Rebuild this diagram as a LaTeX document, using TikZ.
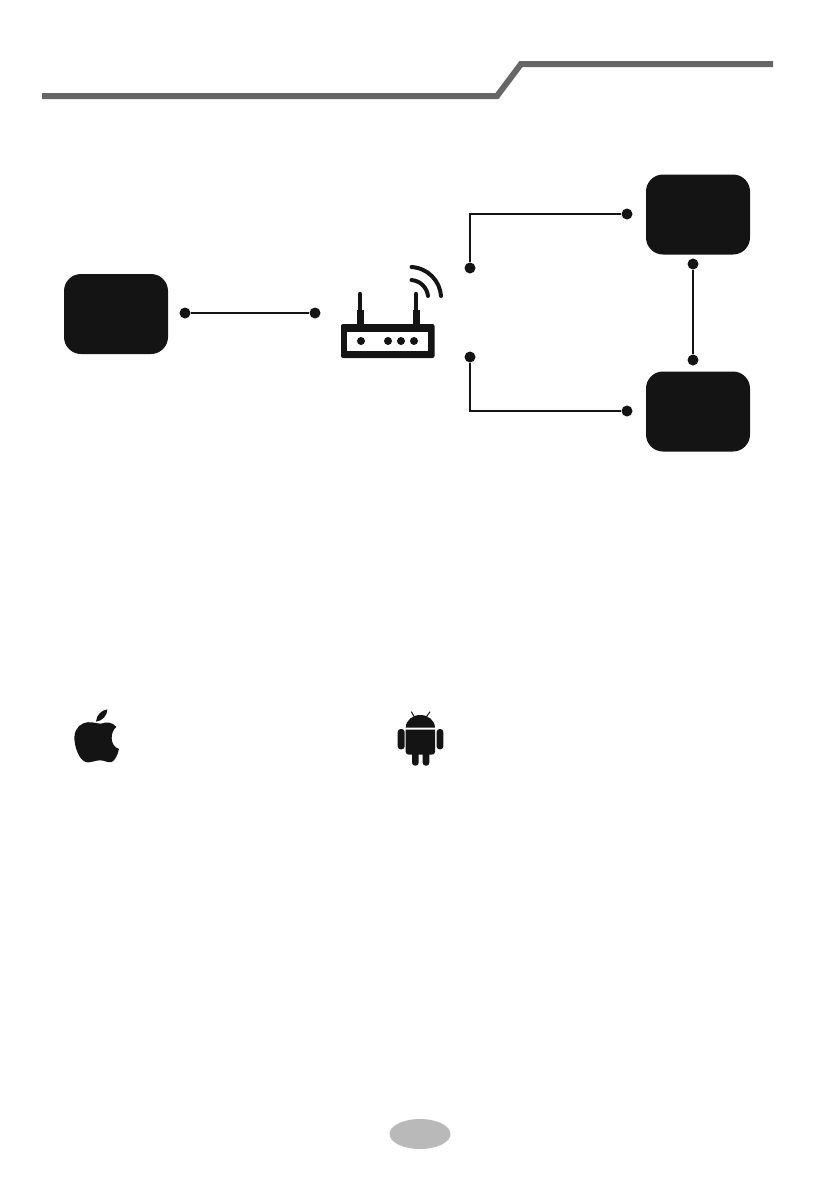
\documentclass[tikz,border=0pt]{standalone}
\usepackage{tikz}
\usetikzlibrary{
  positioning,
  shapes.geometric
}
\definecolor{inkblack}{HTML}{141414}
\definecolor{rulegray}{HTML}{666666}
\definecolor{pagegray}{HTML}{B9B9B9}

\begin{document}
\begin{tikzpicture}[
  x=1pt, y=-1pt,
  device/.style={draw=none, rounded corners=17pt, minimum width=104pt, minimum height=80pt,
                 inner sep=0pt, fill=inkblack},
  wdot/.style={circle, fill=inkblack, minimum size=11pt, inner sep=0pt},
  ldot/.style={circle, fill=inkblack, minimum size=8pt, inner sep=0pt},
  wire/.style={draw=inkblack, line width=1.7pt},
  aerial/.style={draw=inkblack, line cap=round}
]
  \useasboundingbox (0,0) rectangle (839,1191);

  % Header rule
  \coordinate (ruleA) at (42,96);
  \coordinate (ruleB) at (497,96);
  \coordinate (ruleC) at (521,64);
  \coordinate (ruleD) at (773,64);
  \draw[rulegray, line width=6pt, line join=miter] (ruleA) -- (ruleB) -- (ruleC) -- (ruleD);

  % Devices
  \node[device] (phone) at (116,314) {};
  \node[device] (unitA) at (698,214.5) {};
  \node[device] (unitB) at (698,411.5) {};

  % Connector ends
  \node[wdot] (dotPhone) at (185,313) {};
  \node[wdot] (dotIn) at (315,313) {};
  \node[wdot] (dotUp) at (470,268) {};
  \node[wdot] (dotUnitA) at (627,214) {};
  \node[wdot] (dotDown) at (470,357) {};
  \node[wdot] (dotUnitB) at (627,411) {};
  \node[wdot] (dotLinkA) at (693,264) {};
  \node[wdot] (dotLinkB) at (693,360) {};

  % Connectors
  \foreach \a/\b in {dotPhone/dotIn, dotLinkA/dotLinkB} {
    \draw[wire] (\a) -- (\b);
  }
  \draw[wire] (dotUp) |- (dotUnitA);
  \draw[wire] (dotDown) |- (dotUnitB);

  % Router
  \fill[inkblack, rounded corners=2pt] (341,324) rectangle (434.5,358);
  \fill[white] (347,332) rectangle (428,351);
  \foreach \x in {360,416} {
    \draw[aerial, line width=4.4pt] (\x,294) -- (\x,312);
    \draw[inkblack, line width=7pt] (\x,310) -- (\x,325);
  }
  \foreach \x in {361,388,401,414} {
    \node[ldot] (led\x) at (\x,341) {};
  }
  \draw[aerial, line width=4pt] (411.5,267) .. controls (428,268) and (440,281) .. (441,296);
  \draw[aerial, line width=4pt] (411.5,280) .. controls (421,281) and (427,288) .. (428,296);

  % Apple logo
  \begin{scope}[shift={(50,690)}, scale=1/3]
    \fill[inkblack] (152,101) .. controls (135,100) and (118,92) .. (100,100)
      .. controls (80,108) and (70,130) .. (74,155)
      .. controls (78,185) and (92,215) .. (112,217)
      .. controls (125,218) and (135,211) .. (150,211)
      .. controls (165,211) and (172,219) .. (185,216)
      .. controls (195,213) and (204,192) .. (207,177)
      .. controls (192,172) and (185,158) .. (185,145)
      .. controls (185,130) and (190,118) .. (199,111)
      .. controls (188,96) and (170,95) .. (152,101) -- cycle;
    \fill[inkblack] (138,95) .. controls (139,75) and (155,60) .. (172,58)
      .. controls (172,78) and (156,93) .. (138,95) -- cycle;
  \end{scope}

  % Android logo
  \begin{scope}[shift={(380,695)}, scale=1/3]
    \fill[inkblack] (77,98) .. controls (78,75) and (98,60) .. (121,60)
      .. controls (144,60) and (164,75) .. (165,98) -- cycle;
    \fill[inkblack] (77,104) -- (165,104) -- (165,170)
      .. controls (165,176) and (161,179) .. (155,179)
      -- (87,179) .. controls (81,179) and (77,176) .. (77,170) -- cycle;
    \fill[inkblack, rounded corners=3pt] (53,102) rectangle (74,163);
    \fill[inkblack, rounded corners=3pt] (170,102) rectangle (190,163);
    \fill[inkblack, rounded corners=3pt] (96,170) rectangle (116,212);
    \fill[inkblack, rounded corners=3pt] (128,170) rectangle (148,212);
    \draw[inkblack, line width=1pt] (103,66) -- (94,50);
    \draw[inkblack, line width=1pt] (139,66) -- (150,50);
  \end{scope}

  % Page number plate
  \node[ellipse, fill=pagegray, minimum width=61pt, minimum height=30pt, inner sep=0pt] (plate) at (420,1134) {};
\end{tikzpicture}
\end{document}
